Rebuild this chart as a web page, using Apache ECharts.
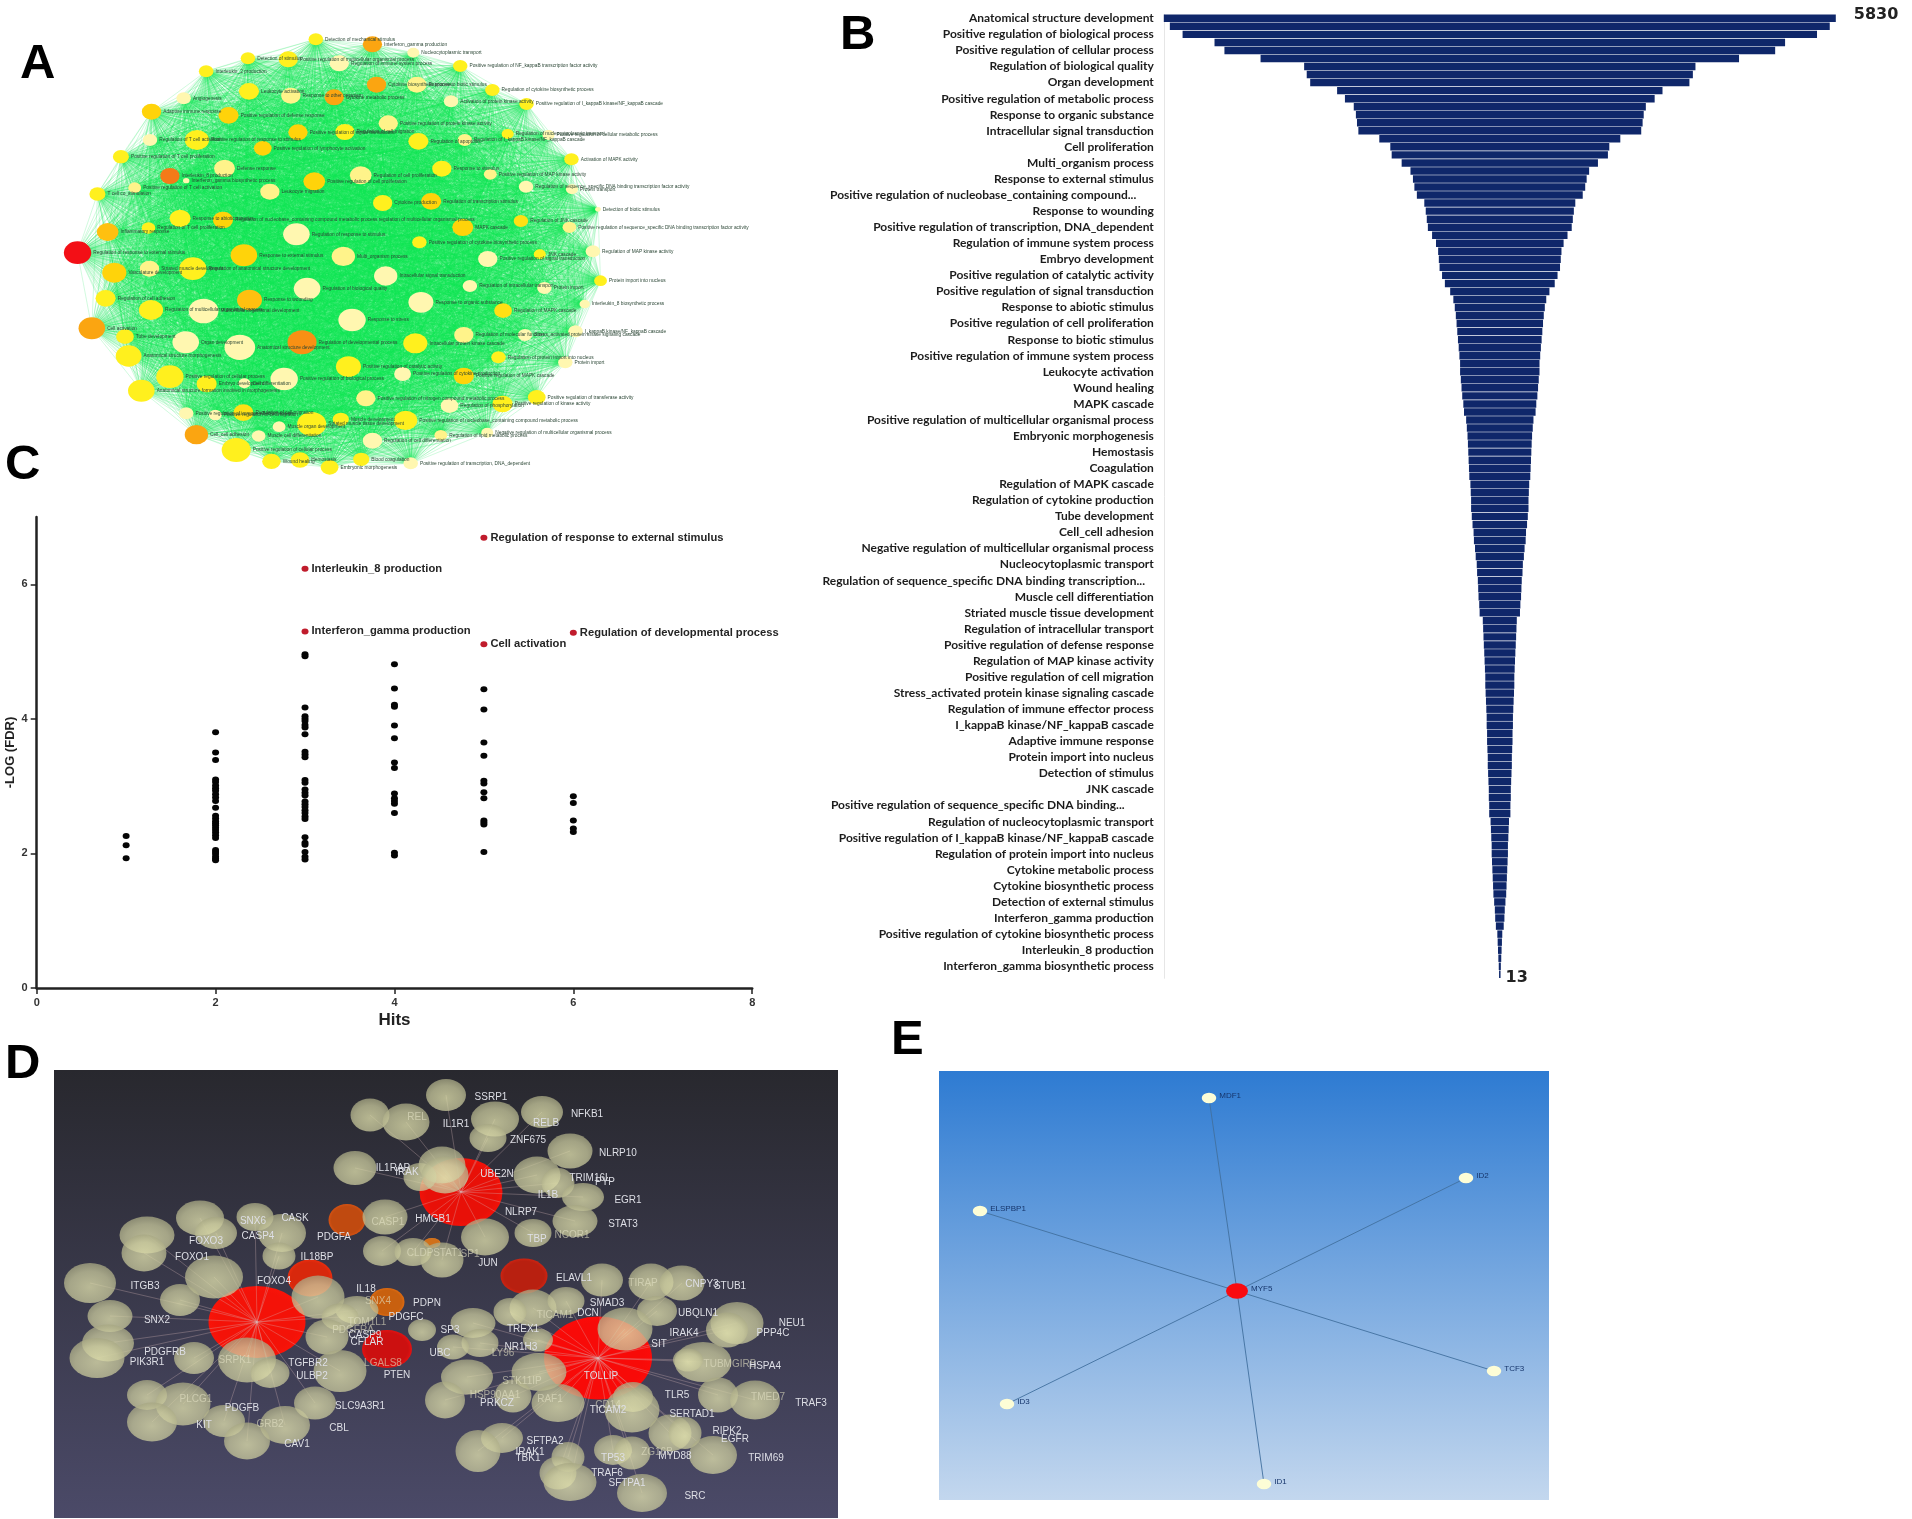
<!DOCTYPE html>
<html>
<head>
<meta charset="utf-8">
<title>Enrichment panels</title>
<script src="https://cdn.jsdelivr.net/npm/echarts@6/dist/echarts.min.js"></script>
<style>html,body{margin:0;padding:0;background:#fff}#chart{width:1912px;height:1519px;filter:blur(0.45px)}</style>
</head>
<body>
<div id="chart"></div>
<script>
// Panel A: GO term network. [term, x, y, nodeSize, heat]
const aNodes = [
["Detection of mechanical stimulus",619,118,36,1],["Interferon_gamma production",730,133,48,3],["Nucleocytoplasmic transport",810,158,30,0],
["Detection of stimulus",486,175,36,1],["Positive regulation of multicellular organismal process",565,178,48,1],["Regulation of immune system process",665,190,48,0],
["Positive regulation of NF_kappaB transcription factor activity",902,198,36,1],["Interleukin_2 production",404,214,36,1],["Response to biotic stimulus",817,254,48,0.5],
["Cytokine biosynthetic process",738,254,48,3],["Regulation of cytokine biosynthetic process",965,270,36,1],["Leukocyte activation",488,274,50,1],
["Angiogenesis",360,295,36,0],["Response to other organism",570,287,48,0.5],["Cytokine metabolic process",655,292,48,3],
["Activation of protein kinase activity",884,304,36,0],["Positive regulation of I_kappaB kinase/NF_kappaB cascade",1032,312,36,1],["Adaptive immune response",297,335,48,2],
["Positive regulation of defense response",448,346,50,2],["Positive regulation of protein kinase activity",761,370,48,0.5],["Positive regulation of signal transduction",584,397,48,2],
["Regulation of cell migration",676,396,48,1],["Regulation of nucleocytoplasmic transport",995,402,30,1],["Positive regulation of cellular metabolic process",1075,405,30,0],
["Positive regulation of response to stimulus",386,420,60,1],["Regulation of T cell activation",294,420,36,0],["Regulation of apoptosis",820,424,50,1],
["Regulation of I_kappaB kinase/NF_kappaB cascade",911,420,36,0.5],["Positive regulation of lymphocyte activation",515,445,44,2],["Activation of MAPK activity",1120,478,36,1],
["Positive regulation of T cell proliferation",237,470,40,1],["Defense response",440,505,52,0.5],["Interleukin_8 production",333,528,48,4],
["Interferon_gamma biosynthetic process",365,542,16,0],["Response to stimulus",866,506,48,1],["Regulation of cell proliferation",707,526,54,0.5],
["Positive regulation of cell proliferation",616,544,54,2],["Positive regulation of MAP kinase activity",961,523,32,0.5],["Regulation of sequence_specific DNA binding transcription factor activity",1031,560,36,0],
["Protein transport",1121,568,30,0],["Positive regulation of T cell activation",264,563,32,0.5],["T cell co_stimulation",191,582,40,1],
["Leukocyte migration",529,575,48,0.5],["Cytokine production",750,609,48,1],["Regulation of transcription stimulus",845,604,50,2],
["Detection of biotic stimulus",1172,628,14,0],["Response to abiotic stimulus",353,655,52,1],["Regulation of nucleobase_containing compound metabolic process regulation of multicellular organismal process",437,660,50,2],
["Positive regulation of sequence_specific DNA binding transcription factor activity",1116,682,34,0.5],["Inflammatory response",211,696,54,2.5],["Regulation of T cell proliferation",291,684,34,1],
["Regulation of response to stimulus",581,703,66,0],["MAPK cascade",907,682,52,2],["Regulation of JNK cascade",1021,663,36,1.5],
["Positive regulation of cytokine biosynthetic process",822,727,36,1],["Regulation of MAP kinase activity",1162,754,36,0],["Regulation of response to external stimulus",152,758,68,5],
["Response to external stimulus",478,766,66,2],["Multi_organism process",673,769,58,0.5],["JNK cascade",1058,763,30,1],
["Positive regulation of signal transduction",956,777,48,0],["Striated muscle development",293,806,48,0.5],["Regulation of anatomical structure development",378,806,68,1],
["Vasculature development",224,818,60,2],["Intracellular signal transduction",756,828,58,0],["Protein import into nucleus",1177,842,32,0.7],
["Regulation of biological quality",602,866,66,0],["Regulation of intracellular transport",921,858,36,0],["Protein import",1067,864,36,0],
["Regulation of cell adhesion",207,895,50,1],["Response to wounding",489,900,62,2.5],["Response to organic substance",825,907,62,0],
["Regulation of multicellular organismal process",296,930,60,1],["Multicellular organismal development",399,933,74,0],["Interleukin_8 biosynthetic process",1146,912,26,0],
["Regulation of MAPK cascade",986,932,44,1.5],["Response to stress",690,960,68,0],["Cell activation",180,985,66,3],
["I_kappaB kinase/NF_kappaB cascade",1128,994,36,0],["Tube development",245,1010,44,1],["Regulation of molecular function",909,1005,48,0.5],
["Stress_activated protein kinase signaling cascade",1029,1005,36,0],["Organ development",364,1027,66,0],["Regulation of developmental process",592,1027,72,3.5],
["Intracellular protein kinase cascade",814,1030,60,1],["Anatomical structure development",470,1042,76,0],["Anatomical structure morphogenesis",252,1068,64,1],
["Regulation of protein import into nucleus",977,1072,36,1],["Protein import",1108,1087,36,0],["Positive regulation of biological process",557,1137,68,0],
["Positive regulation of cellular process",333,1130,68,1],["Positive regulation of catalytic activity",683,1100,62,1],["Positive regulation of cytokine production",789,1122,42,0],
["Positive regulation of MAPK cascade",909,1128,50,2],["Embryo development",405,1152,50,1],["Cell differentiation",479,1150,30,0],
["Anatomical structure formation involved in morphogenesis",277,1172,66,1],["Positive regulation of transferase activity",1052,1192,44,1],["Positive regulation of nitrogen compound metabolic process",717,1195,48,0.5],
["Regulation of phosphorylation",881,1217,44,0],["Positive regulation of kinase activity",985,1212,50,1],["Positive regulation of immune effector process",365,1240,36,0],
["Positive regulation of cell migration",422,1245,32,0],["Regulation of cell migration",477,1238,50,1.5],["Positive regulation of nucleobase_containing compound metabolic process",795,1261,58,1],
["Striated muscle tissue development",611,1272,72,1],["Muscle development",668,1258,40,1],["Muscle organ development",547,1280,32,0],
["Cell_cell adhesion",385,1304,58,3],["Muscle cell differentiation",507,1308,34,0],["Regulation of cell differentiation",730,1322,48,0],
["Regulation of lipid metabolic process",864,1306,32,0.5],["Negative regulation of multicellular organismal process",955,1298,30,0],["Positive regulation of cellular process",463,1350,72,1],
["Wound healing",532,1384,46,1],["Hemostasis",588,1380,46,1],["Blood coagulation",708,1378,40,1],
["Embryonic morphogenesis",646,1402,44,1],["Positive regulation of transcription, DNA_dependent",805,1390,36,0]
];

// Panel B: ranked term sizes (two bars per labelled row)
const bLabels = ["Anatomical structure development","Positive regulation of biological process","Positive regulation of cellular process","Regulation of biological quality","Organ development","Positive regulation of metabolic process","Response to organic substance","Intracellular signal transduction","Cell proliferation","Multi_organism process","Response to external stimulus","Positive regulation of nucleobase_containing compound...","Response to wounding","Positive regulation of transcription, DNA_dependent","Regulation of immune system process","Embryo development","Positive regulation of catalytic activity","Positive regulation of signal transduction","Response to abiotic stimulus","Positive regulation of cell proliferation","Response to biotic stimulus","Positive regulation of immune system process","Leukocyte activation","Wound healing","MAPK cascade","Positive regulation of multicellular organismal process","Embryonic morphogenesis","Hemostasis","Coagulation","Regulation of MAPK cascade","Regulation of cytokine production","Tube development","Cell_cell adhesion","Negative regulation of multicellular organismal process","Nucleocytoplasmic transport","Regulation of sequence_specific DNA binding transcription...","Muscle cell differentiation","Striated muscle tissue development","Regulation of intracellular transport","Positive regulation of defense response","Regulation of MAP kinase activity","Positive regulation of cell migration","Stress_activated protein kinase signaling cascade","Regulation of immune effector process","I_kappaB kinase/NF_kappaB cascade","Adaptive immune response","Protein import into nucleus","Detection of stimulus","JNK cascade","Positive regulation of sequence_specific DNA binding...","Regulation of nucleocytoplasmic transport","Positive regulation of I_kappaB kinase/NF_kappaB cascade","Regulation of protein import into nucleus","Cytokine metabolic process","Cytokine biosynthetic process","Detection of external stimulus","Interferon_gamma production","Positive regulation of cytokine biosynthetic process","Interleukin_8 production","Interferon_gamma biosynthetic process"];
const bValues = [5830,5725,5504,4950,4778,4151,3395,3350,3290,2823,2687,2534,2497,2478,2454,2091,1900,1876,1703,1550,1507,1482,1439,1310,1285,1267,1248,1175,1107,1070,1058,1045,1002,953,861,806,781,763,750,738,726,713,701,689,689,676,664,652,633,621,584,572,560,553,547,541,535,529,510,504,498,498,486,473,455,449,430,418,400,394,381,375,369,357,350,295,289,283,277,270,264,258,252,252,246,240,234,228,228,221,221,215,209,209,203,197,191,191,184,184,160,154,148,141,141,135,129,123,117,111,98,86,80,68,43,37,31,25,18,13];

// Panel C: -log(FDR) against hits
const cHits = [1,2,3,4,5,6];
const cFdr1 = [2.26,2.12,1.93];
const cFdr2 = [3.80,3.50,3.39,3.10,3.06,3.01,2.97,2.93,2.88,2.83,2.78,2.68,2.56,2.52,2.48,2.45,2.42,2.38,2.35,2.31,2.27,2.23,2.05,2.02,1.99,1.95,1.92,1.90];
const cFdr3 = [4.96,4.93,4.17,4.04,4.00,3.97,3.91,3.87,3.77,3.51,3.47,3.43,3.09,3.05,2.95,2.90,2.86,2.77,2.73,2.69,2.64,2.60,2.55,2.51,2.24,2.16,2.13,2.02,1.95,1.91];
const cFdr4 = [4.81,4.45,4.21,4.18,3.90,3.71,3.35,3.27,2.89,2.82,2.78,2.74,2.60,2.01,1.97];
const cFdr5 = [4.44,4.14,3.65,3.45,3.08,3.04,2.91,2.82,2.49,2.46,2.43,2.02];
const cFdr6 = [2.85,2.75,2.49,2.37,2.32];
const cTopNames = ["Regulation of response to external stimulus","Interleukin_8 production","Interferon_gamma production","Regulation of developmental process","Cell activation"];
const cTopHits = [5,3,3,6,5];
const cTopFdr = [6.69,6.23,5.30,5.28,5.11];

// Panel D: protein network. Hubs/hot nodes: [x, y, w, h, colour]
const dHot = [[461,1192,83,68,"#e81008"],[257,1322,97,72,"#f41208"],[598,1358,108,83,"#f80a08"],[524,1276,47,35,"#b82010"],[310,1278,45,37,"#d8280c"],[387,1349,50,38,"#cc1010"],[347,1220,37,32,"#c04a10"],[387,1302,35,28,"#c8600f"],[432,1243,17,10,"#d0701a"]];
// Plain nodes: [x, y, w, h, hub index or -1]
const dNodes = [
[446,1095,40,32,0],[370,1115,39,33,0],[406,1122,47,37,0],[355,1168,43,34,0],[420,1177,33,28,0],[442,1165,47,37,0],[445,1175,47,37,0],
[385,1217,45,35,0],[382,1251,38,30,0],[413,1252,37,28,0],[442,1260,43,35,0],
[147,1235,55,37,1],[144,1253,45,37,1],[200,1218,48,35,1],[216,1233,42,32,1],[255,1217,37,28,1],[282,1233,48,38,1],[279,1256,33,27,1],[214,1277,58,43,1],
[90,1283,52,40,1],[180,1300,40,32,1],[110,1316,45,32,1],[318,1297,53,43,1],[357,1310,43,28,1],[340,1317,37,27,1],[327,1337,43,35,1],[422,1330,28,22,-1],
[340,1371,53,42,1],[108,1343,52,37,1],[97,1358,55,40,1],[194,1358,40,32,1],[247,1360,58,45,1],[270,1373,39,30,1],[147,1395,40,30,1],[183,1404,55,43,1],[152,1422,50,39,1],
[224,1421,42,32,1],[285,1425,50,38,1],[315,1403,42,33,1],[247,1441,46,37,1],
[495,1119,48,35,0],[488,1138,37,28,0],[542,1112,42,32,0],[570,1151,45,35,0],[537,1175,47,37,0],[558,1183,33,30,0],[583,1197,42,28,0],[575,1221,45,32,0],[533,1233,37,28,0],[485,1237,48,37,0],
[602,1280,42,33,2],[651,1282,45,37,2],[682,1283,45,35,2],[657,1311,40,30,2],[533,1308,47,37,2],[510,1312,33,28,2],[566,1301,37,28,2],[473,1323,45,30,2],[480,1343,37,28,2],[453,1347,32,25,2],
[467,1377,52,35,2],[445,1400,40,37,2],[538,1340,30,23,2],[625,1329,55,43,2],[539,1372,55,38,2],[513,1396,37,33,2],[558,1403,53,38,2],[737,1323,53,42,2],[727,1330,42,35,2],[703,1362,57,40,2],[688,1360,30,23,2],
[718,1395,40,35,2],[755,1400,50,39,2],[633,1397,40,30,2],[632,1410,55,45,2],[670,1433,43,37,2],[685,1433,33,32,2],[713,1455,48,38,2],[613,1450,38,30,2],[632,1453,37,33,2],[502,1438,42,30,2],[478,1451,45,42,2],
[568,1457,33,30,2],[558,1473,37,33,2],[570,1482,53,38,2],[642,1493,50,38,2]
];
// Gene labels: [symbol, x, y, dim]
const dLabels = [
["REL",417,1117,1],["IL1R1",456,1124,0],["IL1RAP",393,1168,0],["IRAK",407,1172,0],["CASK",295,1218,0],["SNX6",253,1221,0],["CASP4",258,1236,0],["FOXO3",206,1241,0],["PDGFA",334,1237,0],["CASP1",388,1222,1],["HMGB1",433,1219,0],["IL18BP",317,1257,0],["FOXO1",192,1257,0],["CLDP",420,1253,1],["STAT1",448,1253,1],["SP1",470,1254,1],["FOXO4",274,1281,0],["ITGB3",145,1286,0],["IL18",366,1289,0],["SNX4",378,1301,1],["PDPN",427,1303,0],["PDGFC",406,1317,0],["TOM1L1",367,1322,1],["PDGFRA",353,1330,1],["SNX2",157,1320,0],["CASP9",365,1335,0],["CFLAR",367,1342,0],["SP3",450,1330,0],["UBC",440,1353,0],["PDGFRB",165,1352,0],["PIK3R1",147,1362,0],["SRPK1",235,1360,1],["TGFBR2",308,1363,0],["LGALS8",383,1363,1],["PTEN",397,1375,0],["ULBP2",312,1376,0],["SLC9A3R1",360,1406,0],["PLCG1",196,1399,1],["PDGFB",242,1408,0],["KIT",204,1425,0],["GRB2",270,1424,1],["CBL",339,1428,0],["CAV1",297,1444,0],
["SSRP1",491,1097,0],["NFKB1",587,1114,0],["RELB",546,1123,0],["ZNF675",528,1140,0],["NLRP10",618,1153,0],["UBE2N",497,1174,0],["TRIM16L",590,1178,0],["PYP",605,1182,0],["IL1B",548,1195,0],["EGR1",628,1200,0],["NLRP7",521,1212,0],["STAT3",623,1224,0],["NCOR1",572,1235,1],["TBP",537,1239,0],["JUN",488,1263,0],["ELAVL1",574,1278,0],["TIRAP",643,1283,1],["CNPY3",702,1284,0],["STUB1",730,1286,0],["SMAD3",607,1303,0],["TICAM1",555,1315,1],["DCN",588,1313,0],["UBQLN1",698,1313,0],["NEU1",792,1323,0],["PPP4C",773,1333,0],["IRAK4",684,1333,0],["TREX1",523,1329,0],["SIT",659,1344,0],["NR1H3",521,1347,0],["LY96",503,1353,1],["TUBMGIRB",730,1364,1],["HSPA4",765,1366,0],["TOLLIP",601,1376,0],["STK11IP",522,1381,1],["HSP90AA1",495,1395,1],["PRKCZ",497,1403,0],["RAF1",550,1399,1],["TMED7",768,1397,1],["TRAF3",811,1403,0],["TLR5",677,1395,0],["CD14",608,1405,1],["TICAM2",608,1410,0],["SERTAD1",692,1414,0],["RIPK2",727,1431,0],["EGFR",735,1439,0],["TRIM69",766,1458,0],["SFTPA2",545,1441,0],["IRAK1",530,1452,0],["TBK1",528,1458,0],["TP53",613,1458,0],["ZG16B",657,1452,1],["MYD88",675,1456,0],["TRAF6",607,1473,0],["SFTPA1",627,1483,0],["SRC",695,1496,0]
];

// Panel E: MYF5 star network
const eNames = ["MYF5","MDF1","ID2","ELSPBP1","TCF3","ID3","ID1"];
const eX = [1237,1209,1466,980,1494,1007,1264];
const eY = [1291,1098,1178,1211,1371,1404,1484];

// ---- helpers (styles and series wiring only) ----
const ELLIPSE = 'path://M1,0A1,1,0,1,1,-1,0A1,1,0,1,1,1,0Z';
const heatStops = [[0,'#fff7b0'],[0.5,'#fff38a'],[1,'#fff01e'],[1.5,'#ffe014'],[2,'#ffd30a'],[2.5,'#ffc010'],[3,'#fba511'],[3.5,'#f99014'],[4,'#f47a18'],[5,'#f30f16']];
function heatColor(h){ for (const s of heatStops) if (s[0] >= h) return s[1]; return '#f30f16'; }
function noAxis(gridIndex, min, max, inverse){ return {show:false, type:'value', gridIndex, min, max, inverse:!!inverse}; }
const sphere = {type:'radial',x:0.5,y:0.6,r:0.6,colorStops:[{offset:0,color:'#e2e2ae'},{offset:0.65,color:'#c8c89c'},{offset:1,color:'#a6a682'}]};
function hotFill(c){ return {type:'radial',x:0.5,y:0.5,r:0.6,colorStops:[{offset:0,color:c},{offset:0.7,color:c},{offset:1,color:echarts.color.lift(c,-0.25)}]}; }

const aLinks = [];
for (let i=0;i<aNodes.length;i++) for (let j=i+1;j<aNodes.length;j++) aLinks.push({source:i,target:j});

const bCategories = [];
bValues.forEach((v,i)=>bCategories.push(i%2===0 ? bLabels[i/2] : ''));
const bPad = {"Positive regulation of nucleobase_containing compound...":6,"Regulation of sequence_specific DNA binding transcription...":3,"Positive regulation of sequence_specific DNA binding...":10};

const cBlack = [];
[cFdr1,cFdr2,cFdr3,cFdr4,cFdr5,cFdr6].forEach((arr,i)=>arr.forEach(v=>cBlack.push([cHits[i],v])));

const dLinkNodes = [];
dHot.forEach(h=>dLinkNodes.push({id:'h'+dLinkNodes.length,value:[h[0],h[1]]}));
dNodes.forEach(n=>dLinkNodes.push({id:'h'+dLinkNodes.length,value:[n[0],n[1]]}));
const dLinks = [];
dNodes.forEach((n,i)=>{ if (n[4]>=0) dLinks.push({source:n[4],target:dHot.length+i}); });

function letter(t,left,top){ return {text:t,left,top,padding:0,textStyle:{fontFamily:'Liberation Sans',fontWeight:'bold',fontSize:49,color:'#000'}}; }

const option = {
  backgroundColor:'#fff', animation:false,
  title:[letter('A',20,40),letter('B',840,11),letter('C',5,441),letter('D',5,1040),letter('E',891,1016)],
  grid:[
    {left:0,top:0,width:800,height:490,outerBoundsMode:'none'},
    {left:1163.8,top:14.3,width:672,height:964,outerBoundsMode:'none'},
    {left:36.7,top:517,width:715.5,height:471,outerBoundsMode:'none'},
    {left:54,top:1070,width:784,height:448,outerBoundsMode:'none',show:true,borderWidth:0,backgroundColor:{type:'linear',x:0,y:0,x2:0,y2:1,colorStops:[{offset:0,color:'#28282e'},{offset:1,color:'#4b4a68'}]}},
    {left:939,top:1071,width:610,height:429,outerBoundsMode:'none',show:true,borderWidth:0,backgroundColor:{type:'linear',x:0,y:0,x2:0,y2:1,colorStops:[{offset:0,color:'#2e7bd2'},{offset:1,color:'#c3d7ee'}]}}
  ],
  xAxis:[
    noAxis(0,0,1568),
    {show:false,type:'value',gridIndex:1,min:0,max:5830},
    {type:'value',gridIndex:2,min:0,max:8,interval:2,name:'Hits',nameLocation:'middle',nameGap:24,
      nameTextStyle:{fontFamily:'Liberation Sans',fontWeight:'bold',fontSize:17,color:'#222'},
      splitLine:{show:false},axisLine:{onZero:false,lineStyle:{color:'#222',width:2.5}},axisTick:{length:6,lineStyle:{color:'#222',width:1.5}},
      axisLabel:{fontFamily:'Liberation Sans',fontWeight:'bold',fontSize:11,color:'#333',margin:9}},
    noAxis(3,54,838),
    noAxis(4,939,1549)
  ],
  yAxis:[
    noAxis(0,0,1470,true),
    {type:'category',gridIndex:1,inverse:true,data:bCategories,axisTick:{show:false},axisLine:{lineStyle:{color:'#e6e6e6',width:1}},
      axisLabel:{interval:0,margin:10,fontFamily:'Lato',fontWeight:'bold',fontSize:12,color:'#1c1c1c',
        formatter:v=>v+'\u00a0'.repeat(bPad[v]||0)}},
    {type:'value',gridIndex:2,min:0,max:7,name:'-LOG (FDR)',nameLocation:'middle',nameGap:20,
      nameTextStyle:{fontFamily:'Liberation Sans',fontWeight:'bold',fontSize:13,color:'#222'},
      splitLine:{show:false},axisLine:{onZero:false,lineStyle:{color:'#222',width:2.5}},
      axisTick:{length:6,lineStyle:{color:'#222',width:1.5},customValues:[0,2,4,6]},
      axisLabel:{fontFamily:'Liberation Sans',fontWeight:'bold',fontSize:11,color:'#333',margin:9,customValues:[0,2,4,6]}},
    noAxis(3,1070,1518,true),
    noAxis(4,1071,1500,true)
  ],
  series:[
    // A
    {type:'graph',name:'A',coordinateSystem:'cartesian2d',xAxisIndex:0,yAxisIndex:0,silent:true,z:2,
      data:aNodes.map((n,i)=>({id:String(i),name:n[0],value:[n[1],n[2]],symbol:ELLIPSE,symbolSize:[n[3]*0.403,n[3]*0.333],itemStyle:{color:heatColor(n[4])}})),
      links:aLinks,
      lineStyle:{color:'#12e655',width:0.6,opacity:0.32,curveness:0},
      label:{show:true,position:'right',distance:2,formatter:'{b}',fontFamily:'Liberation Sans',fontSize:4.8,color:'#2c4736'}},
    // B
    {type:'bar',name:'offset',stack:'b',xAxisIndex:1,yAxisIndex:1,silent:true,barCategoryGap:'7%',itemStyle:{color:'rgba(0,0,0,0)'},data:bValues.map(v=>(5830-v)/2)},
    {type:'bar',name:'size',stack:'b',xAxisIndex:1,yAxisIndex:1,silent:true,barCategoryGap:'7%',itemStyle:{color:'#0f276a'},
      data:bValues.map((v,i)=>{
        if (i===0) return {value:v,label:{show:true,position:'right',distance:18,offset:[0,-3],formatter:'{c}',fontFamily:'DejaVu Sans',fontWeight:'bold',fontSize:16,color:'#222'}};
        if (i===bValues.length-1) return {value:v,label:{show:true,position:'right',distance:5,offset:[0,4],formatter:'{c}',fontFamily:'DejaVu Sans',fontWeight:'bold',fontSize:16,color:'#222'}};
        return v;
      })},
    // C
    {type:'scatter',name:'terms',xAxisIndex:2,yAxisIndex:2,silent:true,symbol:ELLIPSE,symbolSize:[7,6],itemStyle:{color:'#050505',opacity:1},data:cBlack},
    {type:'scatter',name:'top terms',xAxisIndex:2,yAxisIndex:2,silent:true,symbol:ELLIPSE,symbolSize:[7,6],itemStyle:{color:'#c01c2c',opacity:1},
      data:cTopNames.map((n,i)=>({name:n,value:[cTopHits[i],cTopFdr[i]]})),
      label:{show:true,position:'right',distance:3,formatter:'{b}',fontFamily:'Liberation Sans',fontWeight:'bold',fontSize:11.2,color:'#252525'}},
    // D
    {type:'scatter',name:'hubs',xAxisIndex:3,yAxisIndex:3,silent:true,z:2,symbol:ELLIPSE,
      data:dHot.map(h=>({value:[h[0],h[1]],symbolSize:[h[2],h[3]],itemStyle:{color:hotFill(h[4]),opacity:1}}))},
    {type:'graph',name:'hub links',coordinateSystem:'cartesian2d',xAxisIndex:3,yAxisIndex:3,silent:true,z:3,symbol:'none',symbolSize:0,
      data:dLinkNodes,links:dLinks,lineStyle:{color:'#d8b8b8',width:1,opacity:0.32},label:{show:false}},
    {type:'scatter',name:'proteins',xAxisIndex:3,yAxisIndex:3,silent:true,z:4,symbol:ELLIPSE,
      data:dNodes.map(n=>({value:[n[0],n[1]],symbolSize:[n[2],n[3]],itemStyle:{color:sphere,opacity:0.76}}))},
    {type:'scatter',name:'gene labels',xAxisIndex:3,yAxisIndex:3,silent:true,z:5,symbolSize:1,itemStyle:{color:'rgba(0,0,0,0)',opacity:1},
      data:dLabels.map(l=>({name:l[0],value:[l[1],l[2]],label:{color:l[3]?'rgba(226,224,196,0.62)':'#dedfe6'}})),
      label:{show:true,position:'inside',formatter:'{b}',fontFamily:'Liberation Sans',fontSize:10,opacity:1}},
    // E
    {type:'graph',name:'E',coordinateSystem:'cartesian2d',xAxisIndex:4,yAxisIndex:4,silent:true,z:3,
      data:eNames.map((n,i)=>({id:n,name:n,value:[eX[i],eY[i]],symbol:ELLIPSE,symbolSize:i===0?[22,15.5]:[14.5,10.5],itemStyle:{color:i===0?'#f90a10':'#fdfdd6'}})),
      links:eNames.slice(1).map(n=>({source:'MYF5',target:n})),
      lineStyle:{color:'#41709f',width:1,opacity:0.9,curveness:0},
      label:{show:true,position:'right',distance:3,offset:[0,-2],formatter:'{b}',fontFamily:'Liberation Sans',fontSize:8,color:'#16356b'}}
  ]
};
echarts.init(document.getElementById('chart'),null,{renderer:'canvas'}).setOption(option);
</script>
</body>
</html>
